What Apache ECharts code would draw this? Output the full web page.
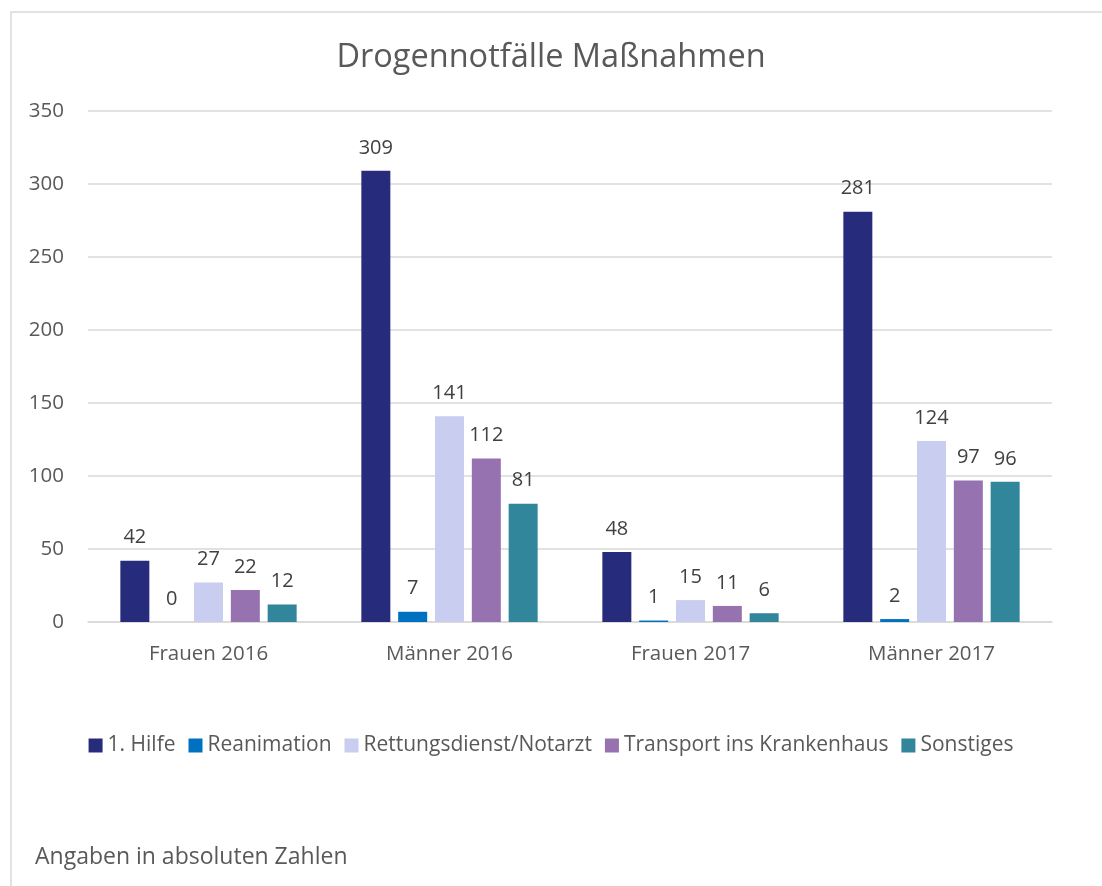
<!DOCTYPE html>
<html>
<head>
<meta charset="utf-8">
<script src="https://cdn.jsdelivr.net/npm/echarts@6/dist/echarts.min.js"></script>
<style>
  html, body { margin: 0; padding: 0; background: #fff; }
  #chart { width: 1102px; height: 886px; }
</style>
</head>
<body>
<div id="chart"></div>
<script>
// Categories and series
const categories = ['Frauen 2016', 'Männer 2016', 'Frauen 2017', 'Männer 2017'];
const seriesNames = ['1. Hilfe', 'Reanimation', 'Rettungsdienst/Notarzt', 'Transport ins Krankenhaus', 'Sonstiges'];
const ersteHilfe = [42, 309, 48, 281];
const reanimation = [0, 7, 1, 2];
const rettungsdienst = [27, 141, 15, 124];
const transport = [22, 112, 11, 97];
const sonstiges = [12, 81, 6, 96];
const seriesColors = ['#262C7B', '#0070C0', '#C9CDEF', '#9673B0', '#31869B'];

const font = '"Open Sans", "Liberation Sans", sans-serif';
const values = [ersteHilfe, reanimation, rettungsdienst, transport, sonstiges];

const chart = echarts.init(document.getElementById('chart'));

chart.setOption({
    animation: false,
    backgroundColor: '#fff',
    title: {
        text: 'Drogennotfälle Maßnahmen',
        left: 'center',
        top: 36,
        textStyle: { fontFamily: font, fontSize: 32.5, fontWeight: 'normal', color: '#595959' }
    },
    legend: {
        top: 730,
        left: 'center',
        itemWidth: 14,
        itemHeight: 14,
        itemGap: 13,
        icon: 'rect',
        textStyle: { fontFamily: font, fontSize: 21, color: '#595959' },
        data: seriesNames
    },
    grid: { left: 88, right: 50, top: 111, bottom: 264, containLabel: false },
    xAxis: {
        type: 'category',
        data: categories,
        axisLine: { lineStyle: { color: '#D9D9D9', width: 1.5 } },
        axisTick: { show: false },
        axisLabel: { fontFamily: font, fontSize: 20.5, color: '#595959', margin: 22 }
    },
    yAxis: {
        type: 'value',
        min: 0,
        max: 350,
        interval: 50,
        axisLine: { show: false },
        axisTick: { show: false },
        splitLine: { lineStyle: { color: '#D9D9D9', width: 1.5 } },
        axisLabel: { fontFamily: font, fontSize: 20.5, color: '#595959', margin: 24 }
    },
    series: seriesNames.map((name, i) => ({
        name: name,
        type: 'bar',
        data: values[i],
        barWidth: 29,
        barGap: '27%',
        barCategoryGap: '26%',
        itemStyle: { color: seriesColors[i] },
        label: {
            show: true,
            position: 'top',
            distance: 13,
            fontFamily: font,
            fontSize: 20,
            color: '#404040'
        }
    })),
    graphic: [
        {
            type: 'rect',
            shape: { x: 11, y: 12, width: 1200, height: 1000 },
            style: { fill: 'none', stroke: '#D9D9D9', lineWidth: 1.5 },
            silent: true
        },
        {
            type: 'text',
            left: 35,
            top: 846,
            style: { text: 'Angaben in absoluten Zahlen', font: '23px ' + font, fill: '#595959' }
        }
    ]
});
</script>
</body>
</html>
